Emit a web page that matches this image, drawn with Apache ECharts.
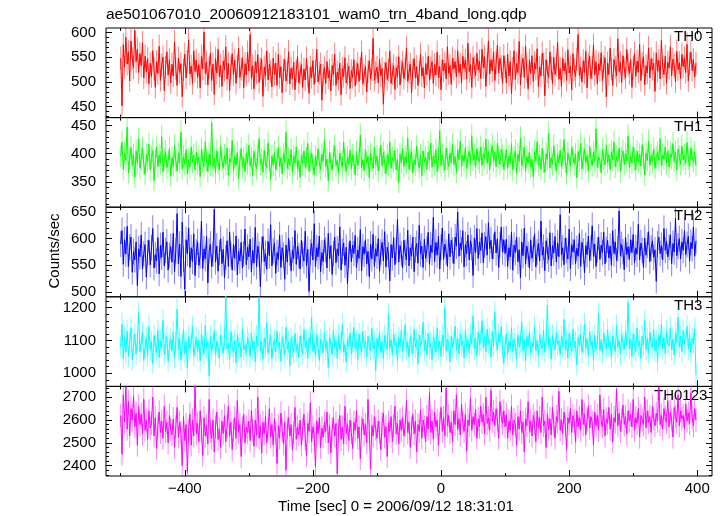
<!DOCTYPE html>
<html><head><meta charset="utf-8">
<script src="https://cdn.jsdelivr.net/npm/echarts@6/dist/echarts.min.js"></script>
<style>html,body{margin:0;padding:0;background:#fff}#c{width:723px;height:516px}</style>
</head><body><div id="c"></div>
<script>
const chartTitle = 'ae501067010_20060912183101_wam0_trn_4band_long.qdp';
const xAxisTitle = 'Time [sec] 0 = 2006/09/12 18:31:01';
const yAxisTitle = 'Counts/sec';
const bandNames = ['TH0', 'TH1', 'TH2', 'TH3', 'TH0123'];
const tStart = -500, tStep = 2;

const th0 = [
548,452,575,530,590,536,561,502,583,547,529,604,541,566,519,557,533,579,508,552,
520,547,496,538,511,563,526,489,541,517,572,503,534,550,482,529,561,514,545,498,
536,512,581,527,493,548,519,537,470,524,556,508,541,585,516,532,497,563,521,544,
509,535,488,552,526,601,517,540,494,529,558,503,536,475,547,518,566,511,533,491,
542,524,571,506,538,483,529,557,515,544,497,532,568,509,526,549,488,537,514,560,
522,596,507,533,486,541,518,555,499,527,546,471,530,512,563,504,536,521,490,548,
515,538,493,556,509,531,478,524,545,502,519,561,496,528,507,540,484,522,551,498,
517,535,489,526,504,548,512,477,530,509,543,495,521,566,500,518,536,463,514,529,
497,541,508,524,482,533,515,556,493,520,505,538,474,527,511,549,498,516,532,487,
523,509,545,492,518,537,501,527,560,496,514,531,480,521,543,506,525,588,503,519,
530,498,546,512,527,455,518,539,505,524,562,497,516,533,485,529,511,551,494,522,
540,507,526,569,501,519,536,478,524,547,508,531,493,520,556,512,529,488,537,515,
552,503,528,541,497,535,514,560,509,531,484,545,522,538,506,571,517,533,495,548,
526,541,510,563,519,536,498,552,527,544,506,578,521,535,489,549,530,513,558,524,
542,507,566,529,551,491,537,583,516,545,522,561,503,539,574,518,548,531,497,553,
531,498,556,512,541,476,527,563,505,538,519,582,494,533,548,509,572,521,486,544,
517,553,501,539,526,567,490,530,512,558,536,472,545,520,509,561,528,497,550,515,
534,580,506,527,491,548,522,539,503,565,518,532,484,557,525,511,546,596,513,529,
500,543,519,562,488,535,552,507,528,574,514,541,496,537,523,559,502,531,549,470,
538,515,568,526,493,545,530,512,587,521,540,499,553,527,508,566,534,517,545,489,
529,557,511,542,520,576,503,537,551,494,533,518,569,508,547,525,538,481,559,522,
543,506,584,531,515,552,497,540,528,571,512,546,534,500,562,525,539,507,556,531,
548,519,576,502,537,560,523,545,510,538];

const th1 = [
395,420,372,401,388,447,366,392,411,379,398,358,405,383,426,374,392,410,381,363,
399,386,417,371,394,405,352,389,412,377,397,383,430,368,391,404,375,386,409,360,
393,378,414,387,369,401,384,438,373,395,381,407,364,390,376,412,385,398,371,403,
382,394,359,408,387,376,421,389,368,399,380,455,377,392,366,405,384,371,413,388,
374,397,381,410,362,391,385,424,370,395,379,402,356,387,409,376,393,368,400,383,
415,378,392,361,404,386,373,398,427,381,390,367,406,384,375,419,388,354,396,380,
402,371,389,411,377,393,364,400,385,438,374,391,379,407,366,396,383,412,373,388,
358,397,382,405,376,392,418,369,387,401,380,363,395,378,409,384,372,399,386,425,
377,390,352,403,383,371,396,414,379,388,365,401,385,376,420,389,368,394,381,406,
373,398,386,362,404,379,392,433,375,389,370,408,383,395,357,400,387,374,411,381,
396,369,391,415,378,402,385,364,397,381,421,374,393,386,406,371,390,349,399,384,
410,377,395,383,428,372,391,404,366,389,380,413,387,375,398,361,405,385,394,372,
403,388,419,376,396,382,407,368,392,441,379,398,385,371,410,390,377,401,384,416,
381,395,367,406,389,422,378,397,386,411,374,393,404,380,432,388,399,376,408,392,
385,412,379,400,391,426,383,405,372,398,414,387,403,377,419,394,381,408,396,372,
389,407,374,396,382,418,371,393,405,365,399,386,428,378,391,412,369,395,384,402,
376,390,359,404,387,421,380,396,372,409,385,367,400,390,436,375,393,381,414,388,
370,398,383,406,377,392,425,386,364,401,389,378,411,395,382,399,357,404,387,419,
373,392,408,384,397,369,413,390,379,402,386,444,376,394,388,366,407,391,380,415,
384,398,372,403,389,421,377,395,386,410,368,392,405,381,400,387,431,375,396,383,
412,390,371,404,386,399,378,416,393,362,401,388,422,380,397,385,409,374,394,402,
388,427,379,398,391,412,383,405,376,400,393,418,386,403,371,408,395,381,414,389,
398,383,420,391,377,410,395,386,403,379];

const th2 = [
590,615,552,598,571,623,548,584,603,537,576,560,594,512,581,566,607,543,572,589,
528,574,597,551,583,619,545,570,558,602,534,587,565,612,549,578,594,541,569,585,
556,610,538,577,647,553,590,529,631,561,505,598,572,620,546,583,557,609,531,575,
594,550,568,633,544,581,562,604,517,577,590,548,571,655,556,586,539,574,600,553,
580,527,565,596,548,612,570,541,589,563,605,532,576,558,593,545,571,618,551,584,
566,599,538,578,554,621,547,586,571,510,580,604,557,572,543,595,568,626,549,577,
592,535,574,561,607,546,583,569,524,588,556,601,573,540,579,563,615,552,586,568,
543,597,571,558,614,549,580,501,575,591,560,628,547,583,566,605,538,574,557,598,
579,545,610,562,587,533,572,603,555,581,568,622,541,576,592,550,584,515,569,596,
557,588,572,606,546,579,563,617,540,585,571,598,553,576,529,590,562,608,548,581,
567,600,539,575,593,558,613,547,584,570,521,589,564,602,551,578,636,556,587,572,
545,597,574,560,616,549,583,567,603,538,579,591,554,625,571,586,546,599,563,580,
612,552,588,574,640,557,593,569,605,543,584,620,561,590,575,548,609,566,597,578,
553,603,586,650,567,592,579,615,547,589,572,607,560,596,583,531,601,574,619,563,
594,578,611,555,588,604,569,630,581,597,562,585,613,573,600,546,589,622,575,598,
572,599,548,583,566,612,541,588,574,603,557,579,527,594,568,620,552,586,571,545,
598,563,580,609,547,575,591,558,633,569,584,540,596,577,561,611,549,587,573,604,
556,592,566,645,570,583,551,601,578,562,618,544,589,575,598,553,582,567,610,548,
593,577,536,587,570,605,559,582,624,567,590,548,579,603,561,588,574,612,553,580,
597,564,586,550,615,572,594,559,581,652,568,589,576,542,603,570,585,561,598,574,
608,555,583,571,627,560,592,578,546,601,569,588,613,557,582,596,565,579,520,590,
603,572,587,560,619,578,595,566,584,607,553,591,575,638,568,586,600,562,594,578,
615,570,589,604,558,593,581,622,567,596];

const th3 = [
1080,1150,1045,1110,1063,1128,1052,1095,1138,1041,1087,1119,1058,1102,1186,1066,1093,1124,1039,1081,
1107,1054,1143,1072,1096,1030,1115,1085,1062,1131,1048,1099,1078,1161,1057,1090,1112,1036,1083,1104,
1069,1125,1047,1094,1195,1071,1106,1040,1088,1133,1059,1097,1016,1114,1075,1091,1142,1053,1080,1109,
1066,1101,1038,1120,1084,1058,1146,1076,1095,992,1112,1070,1089,1130,1055,1098,1079,1046,1117,1085,
1061,1105,1240,1074,1092,1043,1127,1082,1064,1100,1032,1118,1077,1093,1049,1136,1072,1087,1059,1108,
1090,1051,1123,1076,1098,1035,1113,1083,1232,1068,1095,1042,1106,1079,1154,1061,1089,1117,1044,1085,
1102,1065,1129,1078,1093,1037,1111,1086,1057,1140,1074,1096,1023,1107,1081,1063,1121,1069,1090,1048,
1114,1083,1060,1135,1077,1099,1046,1108,1088,1170,1067,1093,1054,1118,1080,1039,1103,1091,1062,1126,
1073,1097,1018,1110,1085,1058,1132,1079,1100,1045,1116,1071,1092,1149,1064,1087,1034,1105,1082,1123,
1060,1094,1140,1075,1101,1041,1119,1086,1066,1128,1078,1098,1050,1113,1084,1069,1137,1074,1095,1008,
1106,1081,1125,1063,1097,1044,1115,1088,1071,1180,1076,1102,1055,1120,1085,1093,1037,1109,1079,1130,
1067,1099,1148,1072,1094,1049,1112,1087,1060,1134,1080,1103,1029,1117,1083,1096,1155,1070,1101,1056,
1122,1078,1093,1042,1110,1086,1065,1139,1074,1098,1051,1116,1082,1200,1068,1104,1089,1035,1113,1077,
1095,1143,1071,1107,1058,1121,1084,1099,1046,1131,1079,1102,1062,1118,1090,1175,1073,1108,1053,1126,
1087,1100,1160,1076,1114,1066,1135,1091,1105,1048,1128,1083,1186,1097,1070,1119,1094,1142,1078,1030,
1083,1121,1058,1097,1075,1139,1066,1104,1088,1045,1117,1079,1095,1157,1070,1102,1037,1112,1084,1126,
1061,1093,1078,1142,1069,1100,1052,1118,1087,1074,1131,1065,1096,1208,1081,1107,1043,1115,1090,1071,
1124,1086,1099,1057,1112,1080,1164,1073,1103,1046,1121,1089,1068,1135,1078,1097,1026,1110,1085,1119,
1064,1092,1150,1077,1105,1054,1127,1083,1098,1039,1116,1072,1091,1182,1069,1102,1060,1123,1087,1074,
1133,1081,1096,1048,1114,1088,1066,1145,1079,1100,1058,1118,1093,1071,1127,1085,1216,1076,1104,1051,
1120,1089,1067,1138,1082,1098,1045,1113,1086,1160,1073,1106,1062,1125,1091,1078,1131,1069,1101,1035,
1116,1087,1149,1075,1109,1060,1128,1092,1083,1139,1071,1104,1055,1122,1094,1171,1080,1113,1066,1130,
1089,1102,1143,1074,1118,1062,1107,1091,1135,996];

const th0123 = [
2620,2450,2710,2590,2745,2560,2680,2530,2650,2600,2705,2570,2630,2490,2660,2580,2625,2540,2690,2555,
2600,2515,2640,2565,2585,2700,2530,2610,2475,2575,2635,2545,2595,2520,2660,2550,2590,2500,2620,2560,
2535,2605,2480,2570,2655,2525,2590,2545,2400,2615,2510,2580,2370,2555,2625,2490,2600,2530,2750,2540,
2585,2505,2640,2555,2445,2610,2530,2575,2495,2690,2550,2520,2600,2460,2570,2635,2515,2560,2480,2595,
2540,2620,2505,2575,2660,2530,2590,2470,2555,2610,2520,2685,2545,2580,2440,2565,2625,2500,2570,2545,
2595,2510,2640,2555,2485,2600,2535,2700,2520,2575,2455,2590,2540,2615,2500,2560,2650,2525,2580,2490,
2605,2545,2410,2575,2520,2630,2555,2495,2590,2380,2565,2610,2530,2580,2470,2545,2655,2515,2570,2535,
2600,2490,2560,2625,2520,2445,2585,2550,2675,2505,2570,2535,2395,2595,2540,2610,2480,2565,2525,2590,
2550,2635,2500,2575,2455,2560,2610,2530,2585,2365,2555,2620,2515,2570,2495,2660,2540,2580,2510,2600,
2545,2475,2590,2555,2640,2520,2570,2430,2565,2605,2535,2580,2500,2690,2550,2385,2575,2530,2615,2560,
2520,2595,2545,2470,2585,2630,2525,2570,2440,2590,2550,2615,2505,2575,2660,2540,2585,2495,2600,2555,
2610,2530,2575,2685,2545,2590,2480,2565,2625,2540,2595,2460,2580,2550,2645,2520,2600,2570,2505,2615,
2560,2720,2545,2595,2515,2635,2570,2600,2490,2585,2655,2550,2610,2530,2740,2575,2620,2545,2590,2505,
2640,2580,2710,2560,2605,2535,2670,2590,2550,2625,2465,2600,2575,2695,2555,2615,2580,2645,2520,2605,
2570,2660,2590,2625,2540,2700,2585,2610,2555,2730,2595,2635,2575,2650,2600,2520,2680,2615,2585,2640,
2570,2625,2520,2595,2555,2660,2535,2600,2580,2490,2615,2560,2640,2545,2590,2460,2605,2575,2680,2550,
2595,2530,2620,2585,2505,2640,2565,2610,2545,2700,2575,2595,2480,2625,2560,2605,2535,2655,2580,2520,
2615,2590,2725,2555,2600,2540,2635,2575,2470,2610,2585,2650,2545,2620,2595,2505,2640,2570,2610,2555,
2690,2580,2625,2535,2600,2660,2565,2615,2590,2490,2635,2575,2620,2555,2710,2595,2570,2645,2530,2605,
2585,2655,2560,2625,2505,2610,2590,2735,2575,2630,2550,2600,2665,2580,2615,2540,2640,2595,2625,2570,
2690,2555,2610,2585,2650,2525,2620,2600,2580,2700,2565,2640,2590,2615,2545,2660,2605,2575,2630,2595,
2745,2580,2620,2560,2650,2610,2590,2685,2570,2635,2600,2525,2655,2615,2590,2710,2575,2640,2605,2620,
2560,2670,2595,2630,2585,2720,2610,2575,2650,2600];

const xMajorTicks = [-400, -200, 0, 200, 400];
const xMinorTicks = [-500, -300, -100, 100, 300];
const yMajorTicks = [[450, 500, 550, 600], [350, 400, 450], [500, 550, 600, 650], [1000, 1100, 1200], [2400, 2500, 2600, 2700]];
const yMinorSteps = [10, 10, 10, 20, 20];

// axis settings (not data)
const xRange = [-523, 423];
const yRanges = [[428, 609], [305, 464], [491, 659], [960, 1233], [2355, 2747]];
const colors = ['#ff0000', '#00ff00', '#0000ff', '#00ffff', '#ff00ff'];
const errColors = ['rgba(255,0,0,0.5)', 'rgba(0,255,0,0.5)', 'rgba(0,0,255,0.5)', 'rgba(0,255,255,0.5)', 'rgba(255,0,255,0.5)'];
const seriesValues = [th0, th1, th2, th3, th0123];

const FONT = "'Liberation Sans', Helvetica, Arial, sans-serif";
const L = 106, R = 712, T = 28, B = 476;
const PH = (B - T) / 5;
const fmt = v => String(v).replace('-', '\u2212');

const grids = [], xAxes = [], yAxes = [], series = [], graphics = [];

function tickAxisX(i, pos, ticks, len, showLabel) {
  return {
    type: 'value', gridIndex: i, position: pos, min: xRange[0], max: xRange[1],
    axisLine: {show: false, onZero: false}, splitLine: {show: false},
    axisTick: {show: true, inside: true, length: len, customValues: ticks, lineStyle: {color: '#000', width: 1}},
    axisLabel: {show: showLabel, customValues: ticks, margin: 5, fontFamily: FONT, fontSize: 15, color: '#000', formatter: fmt}
  };
}
function tickAxisY(i, pos, ticks, len, showLabel) {
  return {
    type: 'value', gridIndex: i, position: pos, min: yRanges[i][0], max: yRanges[i][1],
    axisLine: {show: false, onZero: false}, splitLine: {show: false},
    axisTick: {show: true, inside: true, length: len, customValues: ticks, lineStyle: {color: '#000', width: 1}},
    axisLabel: {show: showLabel, customValues: ticks, margin: 10, fontFamily: FONT, fontSize: 15, color: '#000', formatter: fmt}
  };
}

for (let i = 0; i < 5; i++) {
  const top = T + i * PH;
  grids.push({left: L, width: R - L, top: top, height: PH, show: true, borderColor: '#000', borderWidth: 1, backgroundColor: 'transparent'});
  const xi = xAxes.length;
  xAxes.push(tickAxisX(i, 'bottom', xMajorTicks, 6, i === 4));
  xAxes.push(tickAxisX(i, 'bottom', xMinorTicks, 3, false));
  xAxes.push(tickAxisX(i, 'top', xMajorTicks, 6, false));
  xAxes.push(tickAxisX(i, 'top', xMinorTicks, 3, false));
  const majors = yMajorTicks[i];
  const step = yMinorSteps[i];
  const minors = [];
  for (let v = Math.ceil(yRanges[i][0] / step) * step; v <= yRanges[i][1]; v += step) {
    if (majors.indexOf(v) < 0) minors.push(v);
  }
  const yi = yAxes.length;
  yAxes.push(tickAxisY(i, 'left', majors, 6, true));
  yAxes.push(tickAxisY(i, 'left', minors, 3, false));
  yAxes.push(tickAxisY(i, 'right', majors, 6, false));
  yAxes.push(tickAxisY(i, 'right', minors, 3, false));

  const data = seriesValues[i].map((v, k) => [tStart + k * tStep, v]);
  const ec = errColors[i];
  series.push({
    type: 'custom', xAxisIndex: xi, yAxisIndex: yi, data: data, silent: true, z: 2,
    renderItem: function (params, api) {
      const x = api.value(0), y = api.value(1);
      const e = Math.sqrt(y);
      const p1 = api.coord([x, y - e]);
      const p2 = api.coord([x, y + e]);
      const cs = params.coordSys;
      const clamp = v => Math.max(cs.y, Math.min(cs.y + cs.height, v));
      return {type: 'line', shape: {x1: p1[0], y1: clamp(p1[1]), x2: p2[0], y2: clamp(p2[1])}, style: {stroke: ec, lineWidth: 1}};
    }
  });
  series.push({
    type: 'line', xAxisIndex: xi, yAxisIndex: yi, data: data, showSymbol: false, symbol: 'none', z: 3,
    lineStyle: {color: colors[i], width: 1}, clip: true, silent: true, sampling: null
  });
  graphics.push({
    type: 'text', x: i === 4 ? 654 : 674, y: top + 9,
    style: {text: bandNames[i], font: '15px ' + FONT, fill: '#000', align: 'left', verticalAlign: 'middle', textAlign: 'left', textVerticalAlign: 'middle'}
  });
}

graphics.push({type: 'text', x: 106, y: 15,
  style: {text: chartTitle, font: '15.5px ' + FONT, fill: '#000', align: 'left', verticalAlign: 'middle', textAlign: 'left', textVerticalAlign: 'middle'}});
graphics.push({type: 'text', x: 396, y: 507,
  style: {text: xAxisTitle, font: '15px ' + FONT, fill: '#000', align: 'center', verticalAlign: 'middle', textAlign: 'center', textVerticalAlign: 'middle'}});
graphics.push({type: 'text', x: 55, y: 251, rotation: Math.PI / 2,
  style: {text: yAxisTitle, font: '15px ' + FONT, fill: '#000', align: 'center', verticalAlign: 'middle', textAlign: 'center', textVerticalAlign: 'middle'}});

const chart = echarts.init(document.getElementById('c'), null, {renderer: 'canvas'});
chart.setOption({
  animation: false,
  backgroundColor: '#fff',
  grid: grids, xAxis: xAxes, yAxis: yAxes, series: series, graphic: graphics
});
</script>
</body></html>
